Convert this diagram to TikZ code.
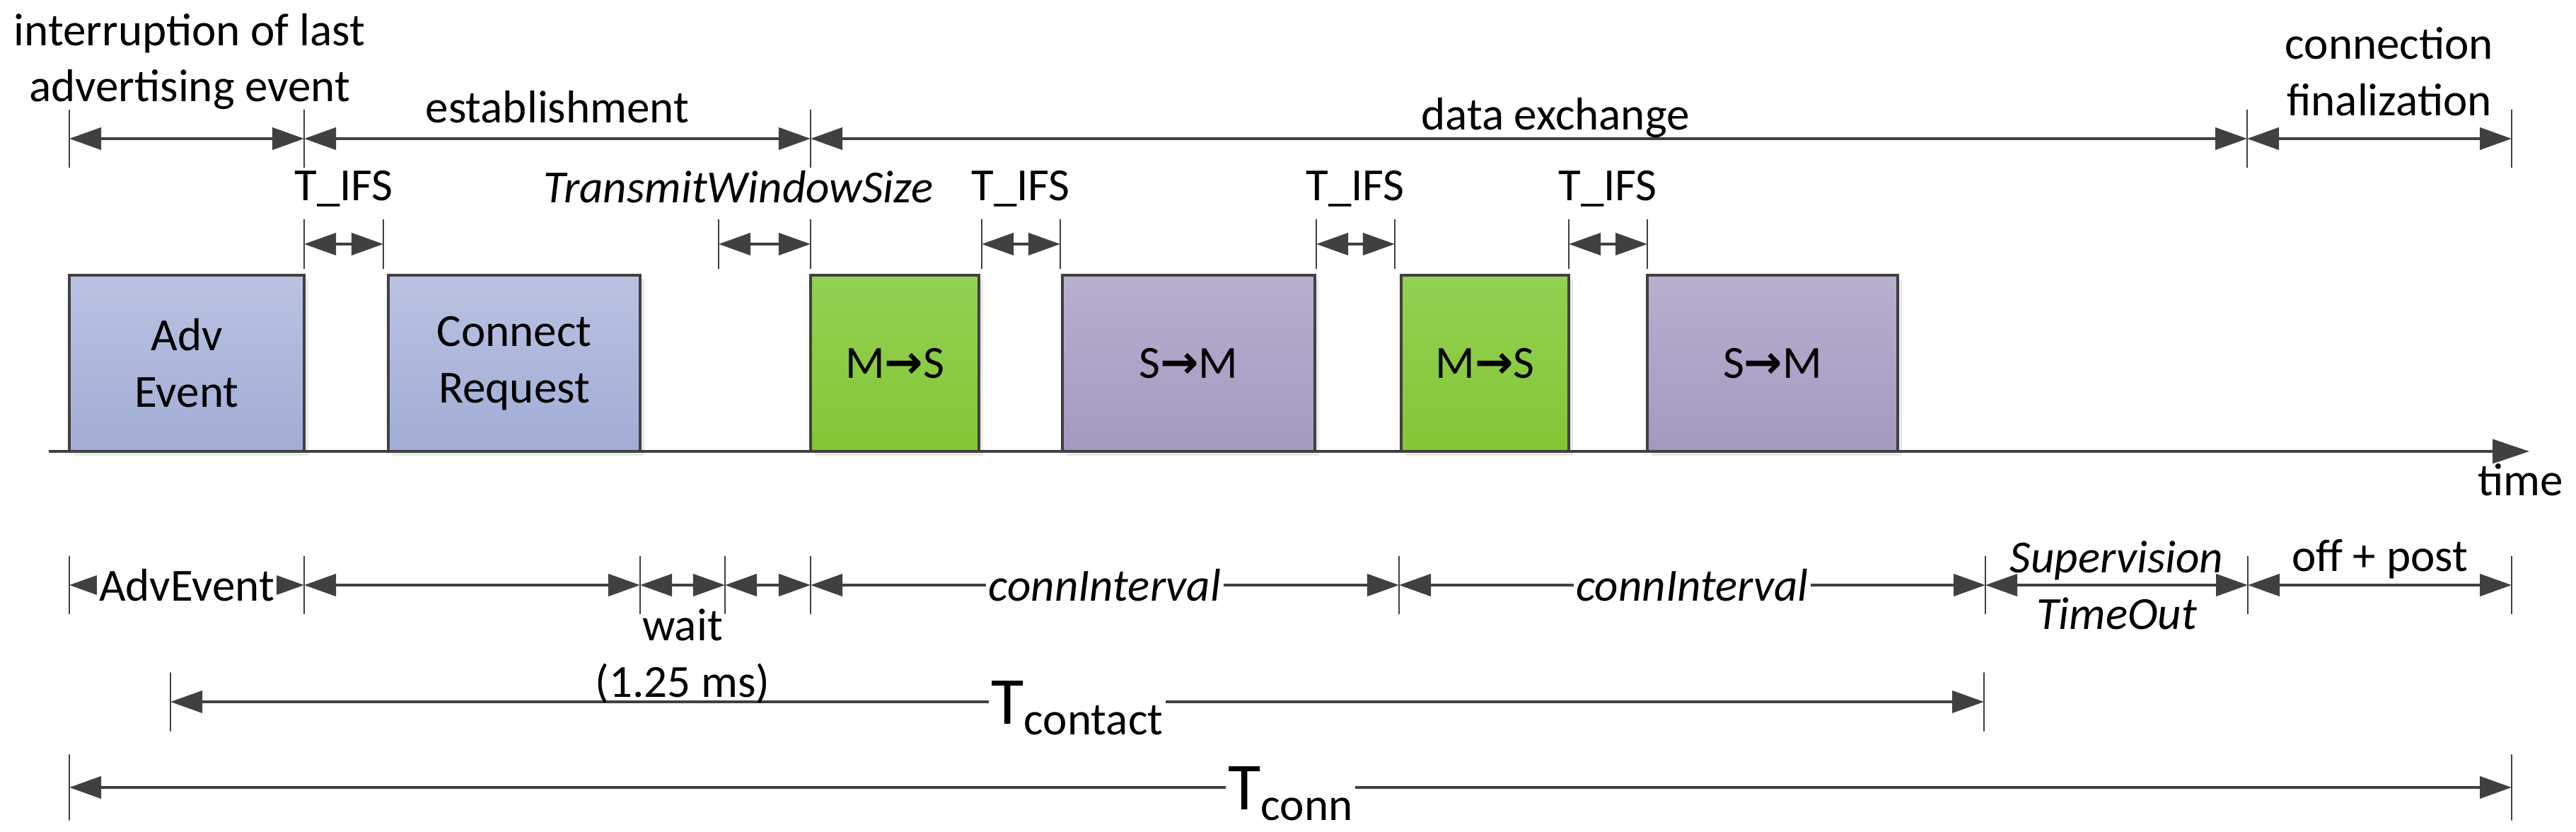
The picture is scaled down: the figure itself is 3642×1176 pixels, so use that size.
\documentclass[tikz,border=0pt]{standalone}
\usepackage{fontspec}
\setmainfont{Carlito}
\newfontfamily\arrowfont{DejaVu Sans}
\usepackage{xcolor}
\usetikzlibrary{arrows.meta,shadows}
\definecolor{dgray}{HTML}{404040}
\definecolor{blueT}{RGB}{185,194,225}
\definecolor{blueB}{RGB}{161,173,214}
\definecolor{greenT}{RGB}{147,209,82}
\definecolor{greenB}{RGB}{131,198,52}
\definecolor{violetT}{RGB}{185,175,207}
\definecolor{violetB}{RGB}{165,152,192}

\begin{document}
\begin{tikzpicture}[x=0.01cm,y=-0.01cm,
  font=\fontsize{18.5pt}{22.7pt}\selectfont,
  slant/.style={font=\fontsize{18.5pt}{22.7pt}\selectfont\itshape},
  box/.style={draw=dgray,line width=1pt,minimum height=2.49cm,align=center,inner sep=0pt,
    drop shadow={shadow xshift=0.06cm,shadow yshift=-0.06cm,opacity=0.25,fill=black!35}},
  advbox/.style={box,top color=blueT,bottom color=blueB},
  msbox/.style={box,top color=greenT,bottom color=greenB},
  smbox/.style={box,top color=violetT,bottom color=violetB},
  tickmark/.style={draw=dgray,line width=0.75pt,inner sep=0pt,outer sep=0pt,minimum width=0pt,minimum height=#1},
  tickmark/.default=0.82cm,
  dim/.style={draw=dgray,line width=1.15pt,<->,>={Triangle[length=0.45cm,width=0.31cm]}},
  axisline/.style={draw=dgray,line width=0.95pt,->,>={Triangle[length=0.52cm,width=0.34cm]}},
  gaplabel/.style={fill=white,inner sep=1pt}]

\useasboundingbox (0,0) rectangle (3642,1176);

\node[advbox,minimum width=3.32cm](1) at (264,513.5){Adv\\Event};
\node[advbox,minimum width=3.56cm](2) at (727,513.5){Connect\\Request};
\node[msbox,minimum width=2.38cm](3) at (1265,513.5){M{\arrowfont\bfseries →}S};
\node[smbox,minimum width=3.57cm](4) at (1680.5,513.5){S{\arrowfont\bfseries →}M};
\node[msbox,minimum width=2.37cm](5) at (2099.5,513.5){M{\arrowfont\bfseries →}S};
\node[smbox,minimum width=3.54cm](6) at (2506,513.5){S{\arrowfont\bfseries →}M};

\coordinate(a0) at (69,638);
\coordinate(a1) at (3576,638);
\draw[axisline](a0)--(a1);
\node[anchor=base](time) at (3564,700){time};

\node[tickmark](t1) at (98,196){};
\node[tickmark](t2) at (430,196){};
\node[tickmark](t3) at (1146,196){};
\node[tickmark](t4) at (3177,196){};
\node[tickmark](t5) at (3551,196){};
\draw[dim](t1)--(t2);
\draw[dim](t2)--(t3);
\draw[dim](t3)--(t4);
\draw[dim](t4)--(t5);
\node[anchor=base,align=center](l1) at (268,144){interruption of last\\advertising event};
\node[anchor=base](l2) at (788,174){establishment};
\node[anchor=base](l3) at (2199,183){data exchange};
\node[anchor=base,align=center](l4) at (3378,163){connection\\finalization};

\node[tickmark=0.7cm](s1) at (430,345){};
\node[tickmark=0.7cm](s2) at (542,345){};
\node[tickmark=0.7cm](s3) at (1016,345){};
\node[tickmark=0.7cm](s4) at (1146,345){};
\node[tickmark=0.7cm](s5) at (1388,345){};
\node[tickmark=0.7cm](s6) at (1499,345){};
\node[tickmark=0.7cm](s7) at (1861,345){};
\node[tickmark=0.7cm](s8) at (1972,345){};
\node[tickmark=0.7cm](s9) at (2218,345){};
\node[tickmark=0.7cm](s10) at (2329,345){};
\draw[dim](s1)--(s2);
\draw[dim](s3)--(s4);
\draw[dim](s5)--(s6);
\draw[dim](s7)--(s8);
\draw[dim](s9)--(s10);
\node[anchor=base](i1) at (486,284){T\_IFS};
\node[anchor=base,slant](i2) at (1044,286){TransmitWindowSize};
\node[anchor=base](i3) at (1443,284){T\_IFS};
\node[anchor=base](i4) at (1916,284){T\_IFS};
\node[anchor=base](i5) at (2273,284){T\_IFS};

\node[tickmark](b1) at (98,827){};
\node[tickmark](b2) at (430,827){};
\node[tickmark](b3) at (905,827){};
\node[tickmark](b4) at (1025,827){};
\node[tickmark](b5) at (1146,827){};
\node[tickmark](b6) at (1978,827){};
\node[tickmark](b7) at (2807,827){};
\node[tickmark](b8) at (3178,827){};
\node[tickmark](b9) at (3551,827){};
\draw[dim](b1)--(b2) node[midway,gaplabel]{AdvEvent};
\draw[dim](b2)--(b3);
\draw[dim](b3)--(b4);
\draw[dim](b4)--(b5);
\draw[dim](b5)--(b6) node[midway,gaplabel,slant]{connInterval};
\draw[dim](b6)--(b7) node[midway,gaplabel,slant]{connInterval};
\draw[dim](b7)--(b8) node[midway,align=center,slant]{Supervision\\TimeOut};
\draw[dim](b8)--(b9) node[midway,above,inner sep=2pt]{off + post};

\node[tickmark=0.83cm](c1) at (241,992){};
\node[tickmark=0.83cm](c2) at (2805,992){};
\draw[dim](c1)--(c2) node[midway,anchor=base,yshift=-0.31cm,gaplabel]{{\fontsize{27pt}{30pt}\selectfont T}\raisebox{-0.15cm}{contact}};
\node[anchor=base,align=center](w) at (965,985){wait\\(1.25 ms)};

\node[tickmark=0.93cm](n1) at (98,1113){};
\node[tickmark=0.93cm](n2) at (3551,1113){};
\draw[dim](n1)--(n2) node[midway,anchor=base,yshift=-0.31cm,gaplabel]{{\fontsize{27pt}{30pt}\selectfont T}\raisebox{-0.15cm}{conn}};
\end{tikzpicture}
\end{document}
